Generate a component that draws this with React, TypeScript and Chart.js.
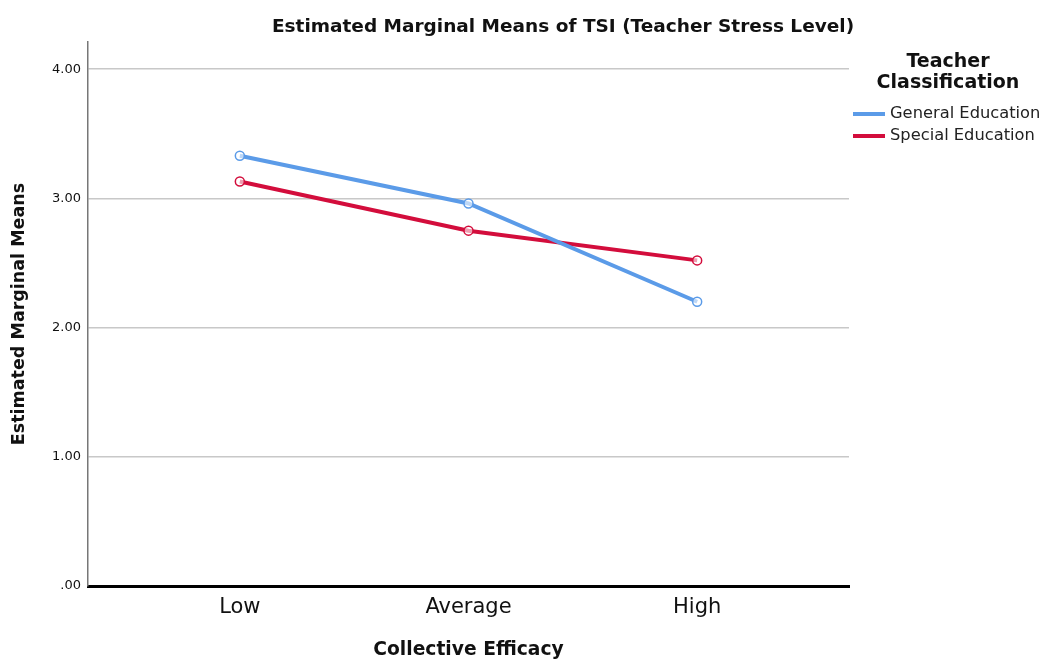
import React, { useEffect, useRef } from "react";
import { Chart, registerables } from "chart.js";

Chart.register(...registerables);

const categories = ["Low", "Average", "High"];
const generalEducation = [3.33, 2.96, 2.2];
const specialEducation = [3.13, 2.75, 2.52];
const yTicks = [0, 1, 2, 3, 4];
const seriesNames = ["General Education", "Special Education"];
const legendTitle = ["Teacher", "Classification"];
const chartTitle = "Estimated Marginal Means of TSI (Teacher Stress Level)";

const FONT = "'DejaVu Sans', sans-serif";
const BLUE = "#5b9be8";
const RED = "#d30d3c";

const overlayPlugin = {
  id: "overlay",
  afterDraw(chart: any) {
    const ctx = chart.ctx;
    ctx.save();
    ctx.fillStyle = "#111";
    ctx.textAlign = "center";
    ctx.textBaseline = "middle";
    ctx.font = `bold 18.5px ${FONT}`;
    ctx.fillText(chartTitle, 555, 19);
    ctx.font = `bold 19px ${FONT}`;
    legendTitle.forEach((t, i) => ctx.fillText(t, 940, 54 + i * 21));
    ctx.textAlign = "left";
    ctx.font = `16.3px ${FONT}`;
    const colors = [BLUE, RED];
    seriesNames.forEach((n, i) => {
      const y = 106 + i * 22;
      ctx.strokeStyle = colors[i];
      ctx.lineWidth = 4;
      ctx.beginPath();
      ctx.moveTo(845, y);
      ctx.lineTo(877, y);
      ctx.stroke();
      ctx.fillStyle = "#222";
      ctx.fillText(n, 882, y);
    });
    ctx.restore();
  },
};

export default function App() {
  const ref = useRef<HTMLCanvasElement>(null);
  useEffect(() => {
    document.body.style.overflow = "hidden";
    const toPts = (arr: number[]) => arr.map((v, i) => ({ x: i, y: v }));
    const chart = new Chart(ref.current!, {
      type: "line",
      data: {
        datasets: [
          {
            label: seriesNames[0],
            data: toPts(generalEducation),
            borderColor: BLUE,
            borderWidth: 4,
            pointRadius: 4.5,
            pointBorderWidth: 1.5,
            pointBackgroundColor: "rgba(255,255,255,0.6)",
            pointBorderColor: BLUE,
          },
          {
            label: seriesNames[1],
            data: toPts(specialEducation),
            borderColor: RED,
            borderWidth: 4,
            pointRadius: 4.5,
            pointBorderWidth: 1.5,
            pointBackgroundColor: "rgba(255,255,255,0.6)",
            pointBorderColor: RED,
          },
        ],
      },
      options: {
        animation: false,
        responsive: false,
        layout: { padding: { top: 34, right: 198, left: 0, bottom: 0 } },
        plugins: { legend: { display: false }, title: { display: false }, tooltip: { enabled: false } },
        scales: {
          x: {
            type: "linear",
            min: -0.664,
            max: 2.664,
            afterBuildTicks: (s: any) => {
              s.ticks = categories.map((_, i) => ({ value: i }));
            },
            afterFit: (s: any) => {
              s.height = 82;
            },
            ticks: {
              callback: (v: any) => categories[v as number] ?? "",
              font: { family: FONT, size: 21 },
              color: "#111",
              padding: 9,
              maxRotation: 0,
            },
            grid: { display: false, drawTicks: false },
            border: { color: "#000", width: 3 },
            title: {
              display: true,
              text: "Collective Efficacy",
              font: { family: FONT, size: 18.7, weight: "bold" },
              color: "#111",
              padding: { top: 0, bottom: 7 },
            },
          },
          y: {
            min: 0,
            max: 4.21,
            afterBuildTicks: (s: any) => {
              s.ticks = yTicks.map((v) => ({ value: v }));
            },
            afterFit: (s: any) => {
              s.width = 80;
            },
            ticks: {
              callback: (v: any) => (v === 0 ? ".00" : Number(v).toFixed(2)),
              font: { family: FONT, size: 13 },
              color: "#111",
              padding: 7,
            },
            grid: {
              drawTicks: false,
              color: (c: any) => (c.tick && c.tick.value === 0 ? "rgba(0,0,0,0)" : "#c8c8c8"),
              lineWidth: 1.5,
            },
            border: { color: "#777", width: 1.5 },
            title: {
              display: true,
              text: "Estimated Marginal Means",
              font: { family: FONT, size: 17.5, weight: "bold" },
              color: "#111",
              padding: { top: 1, bottom: 0 },
            },
          },
        },
      },
      plugins: [overlayPlugin],
    } as any);
    return () => chart.destroy();
  }, []);
  return (
    <div style={{ width: 1039, height: 660, overflow: "visible" }}>
      <canvas ref={ref} width={1039} height={660} style={{ display: "block", width: "1039px", height: "660px" }} />
    </div>
  );
}
